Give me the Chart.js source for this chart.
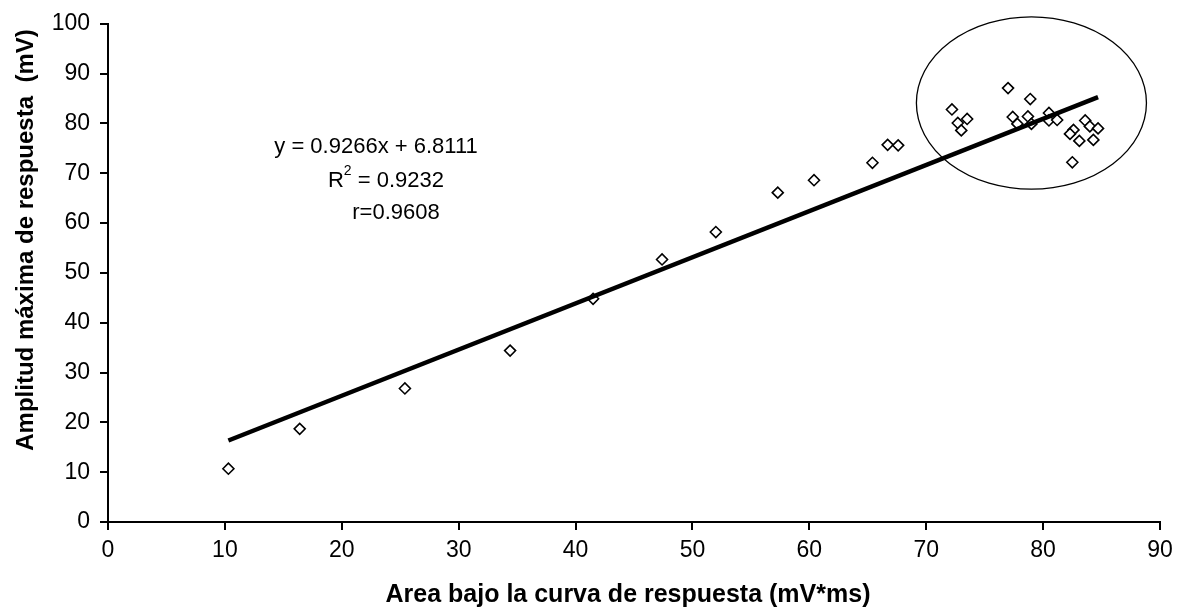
<!DOCTYPE html>
<html><head><meta charset="utf-8">
<script src="https://cdn.jsdelivr.net/npm/chart.js@4.4.1/dist/chart.umd.min.js"></script>
<style>html,body{margin:0;padding:0;background:#fff}#wrap{width:1184px;height:613px}</style>
</head><body><div id="wrap"><canvas id="c" width="1184" height="613"></canvas></div>
<script>
// ---- data ----
const areaValues = [10.3, 16.4, 25.4, 34.4, 41.5, 47.4, 52.0, 57.3, 60.4, 65.4, 66.7, 67.6,
  72.2, 73.5, 72.7, 73.0, 77.0, 78.9, 77.4, 77.8, 78.7, 79.0, 80.5, 80.5, 81.2,
  82.6, 82.3, 83.6, 84.0, 84.7, 83.1, 84.3, 82.5];
const amplitudeValues = [10.7, 18.7, 26.8, 34.4, 44.8, 52.7, 58.2, 66.1, 68.6, 72.1, 75.7, 75.6,
  82.8, 80.9, 80.1, 78.6, 87.1, 84.9, 81.3, 79.9, 81.4, 79.9, 82.1, 80.6, 80.7,
  78.7, 77.9, 80.6, 79.4, 79.0, 76.5, 76.7, 72.2];
const xTickValues = [0, 10, 20, 30, 40, 50, 60, 70, 80, 90];
const yTickValues = [0, 10, 20, 30, 40, 50, 60, 70, 80, 90, 100];
const trendSlope = 0.9266;
const trendIntercept = 6.8111;
const equationText = 'y = 0.9266x + 6.8111';
const r2Label = 'R';
const r2Sup = '2';
const r2Value = ' = 0.9232';
const rText = 'r=0.9608';
const xTitle = 'Area bajo la curva de respuesta (mV*ms)';
const yTitle = 'Amplitud máxima de respuesta  (mV)';
// highlighted cluster (data units)
const clusterCenter = {x: 79.0, y: 84.1};
const clusterRadius = {x: 9.84, y: 17.3};

const FONT = "'Liberation Sans', Arial, sans-serif";
const points = areaValues.map((x, i) => ({x: x, y: amplitudeValues[i]}));
const xMin = Math.min(...areaValues), xMax = Math.max(...areaValues);
const trend = [
  {x: xMin, y: trendSlope * xMin + trendIntercept},
  {x: xMax, y: trendSlope * xMax + trendIntercept}
];

const overlay = {
  id: 'overlay',
  afterDatasetsDraw(chart) {
    const ctx = chart.ctx, xs = chart.scales.x, ys = chart.scales.y;
    ctx.save();
    // ellipse around the cluster
    const cx = xs.getPixelForValue(clusterCenter.x), cy = ys.getPixelForValue(clusterCenter.y);
    const rx = Math.abs(xs.getPixelForValue(clusterCenter.x + clusterRadius.x) - cx);
    const ry = Math.abs(ys.getPixelForValue(clusterCenter.y + clusterRadius.y) - cy);
    ctx.beginPath();
    ctx.ellipse(cx, cy, rx, ry, 0, 0, Math.PI * 2);
    ctx.strokeStyle = '#000'; ctx.lineWidth = 1.3; ctx.stroke();
    // equation text
    ctx.fillStyle = '#000';
    ctx.textBaseline = 'middle';
    ctx.font = '22px ' + FONT;
    ctx.textAlign = 'center';
    ctx.fillText(equationText, 376, 147);
    // R^2 line
    ctx.textAlign = 'left';
    const wR = ctx.measureText(r2Label).width;
    const wV = ctx.measureText(r2Value).width;
    ctx.font = '14px ' + FONT;
    const wS = ctx.measureText(r2Sup).width;
    const sx = 386 - (wR + wS + wV) / 2;
    ctx.font = '22px ' + FONT;
    ctx.fillText(r2Label, sx, 181);
    ctx.font = '14px ' + FONT;
    ctx.fillText(r2Sup, sx + wR, 171);
    ctx.font = '22px ' + FONT;
    ctx.fillText(r2Value, sx + wR + wS, 181);
    ctx.textAlign = 'center';
    ctx.fillText(rText, 396, 213);
    // axis titles
    ctx.font = 'bold 25px ' + FONT;
    ctx.fillText(xTitle, 628, 595);
    ctx.font = 'bold 24px ' + FONT;
    ctx.translate(26, 240);
    ctx.rotate(-Math.PI / 2);
    ctx.fillText(yTitle, 0, 0);
    ctx.restore();
  }
};

const axisCommon = {
  type: 'linear',
  grid: {display: true, drawOnChartArea: false, drawTicks: true, tickLength: 8, color: '#000', lineWidth: 2},
  border: {display: true, color: '#000', width: 2},
};

new Chart(document.getElementById('c'), {
  data: {
    datasets: [
      {type: 'line', data: trend, borderColor: '#000', borderWidth: 4.5, pointRadius: 0, order: 0, parsing: false},
      {type: 'scatter', data: points, pointStyle: 'rectRot', radius: 5.5, borderColor: '#000', borderWidth: 1.6,
       backgroundColor: '#fff', order: 1}
    ]
  },
  options: {
    responsive: false, animation: false, devicePixelRatio: 1,
    layout: {padding: {top: 19, right: 24, left: 0, bottom: 0}},
    plugins: {legend: {display: false}, tooltip: {enabled: false}},
    scales: {
      x: Object.assign({}, axisCommon, {
        min: xTickValues[0], max: xTickValues[xTickValues.length - 1],
        afterBuildTicks: s => { s.ticks = xTickValues.map(v => ({value: v})); },
        afterFit: s => { s.height = 91; },
        ticks: {color: '#000', padding: 7, font: {family: FONT, size: 23}, maxRotation: 0}
      }),
      y: Object.assign({}, axisCommon, {
        min: yTickValues[0], max: yTickValues[yTickValues.length - 1],
        afterBuildTicks: s => { s.ticks = yTickValues.map(v => ({value: v})); },
        afterFit: s => { s.width = 108; },
        ticks: {color: '#000', padding: 10, font: {family: FONT, size: 23}}
      })
    }
  },
  plugins: [overlay]
});
</script></body></html>
